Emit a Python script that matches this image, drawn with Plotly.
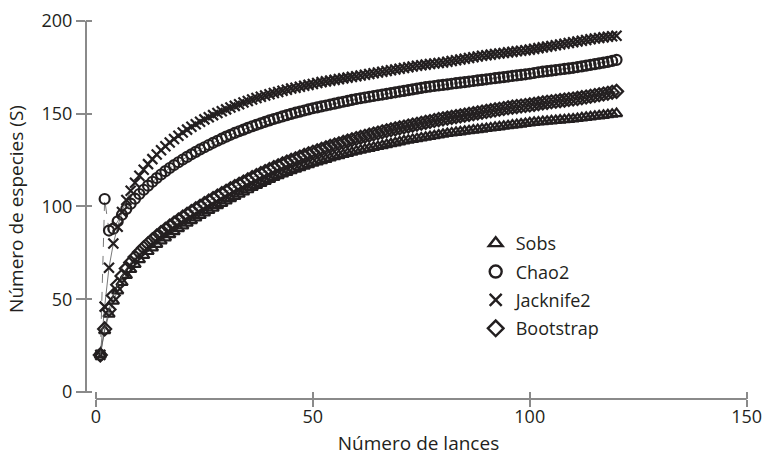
import plotly.graph_objects as go

lances = list(range(1, 121))

sobs = [20.0, 33.0, 42.0, 49.0, 54.5, 59.0, 62.8, 66.0, 68.8, 71.3,
        73.6, 75.7, 77.7, 79.6, 81.4, 83.1, 84.8, 86.4, 88.0, 89.5,
        91.0, 92.4, 93.8, 95.2, 96.5, 97.8, 99.1, 100.4, 101.7, 103.0,
        104.2, 105.4, 106.6, 107.8, 109.0, 110.2, 111.3, 112.4, 113.5, 114.6,
        115.6, 116.6, 117.5, 118.4, 119.3, 120.1, 120.9, 121.7, 122.5, 123.3,
        124.0, 124.7, 125.4, 126.1, 126.8, 127.4, 128.0, 128.6, 129.2, 129.8,
        130.3, 130.8, 131.3, 131.8, 132.3, 132.8, 133.3, 133.8, 134.3, 134.8,
        135.3, 135.7, 136.1, 136.5, 136.9, 137.3, 137.7, 138.1, 138.5, 138.9,
        139.3, 139.6, 139.9, 140.2, 140.5, 140.8, 141.1, 141.4, 141.7, 142.0,
        142.3, 142.6, 142.9, 143.2, 143.5, 143.8, 144.1, 144.4, 144.7, 145.0,
        145.3, 145.5, 145.7, 145.9, 146.1, 146.3, 146.5, 146.7, 146.9, 147.1,
        147.4, 147.7, 148.0, 148.3, 148.6, 148.8, 149.1, 149.4, 149.7, 150.0]

chao2 = [20.0, 104.0, 87.0, 88.0, 92.0, 95.5, 98.7, 101.5, 104.2, 106.7,
         109.0, 111.2, 113.3, 115.3, 117.2, 119.0, 120.7, 122.3, 123.8, 125.3,
         126.7, 128.1, 129.4, 130.7, 131.9, 133.1, 134.3, 135.4, 136.5, 137.6,
         138.6, 139.6, 140.5, 141.4, 142.3, 143.2, 144.0, 144.8, 145.6, 146.4,
         147.1, 147.8, 148.5, 149.2, 149.9, 150.5, 151.1, 151.7, 152.3, 152.9,
         153.4, 153.9, 154.4, 154.9, 155.4, 155.9, 156.4, 156.9, 157.4, 157.9,
         158.3, 158.7, 159.1, 159.5, 159.9, 160.3, 160.7, 161.1, 161.5, 161.9,
         162.3, 162.7, 163.1, 163.5, 163.9, 164.3, 164.6, 164.9, 165.2, 165.5,
         165.8, 166.1, 166.4, 166.7, 167.0, 167.3, 167.6, 167.9, 168.2, 168.5,
         168.8, 169.1, 169.4, 169.7, 170.0, 170.3, 170.6, 170.9, 171.2, 171.5,
         171.9, 172.3, 172.6, 172.9, 173.2, 173.5, 173.8, 174.1, 174.4, 174.7,
         175.1, 175.5, 175.9, 176.3, 176.7, 177.1, 177.5, 177.9, 178.4, 179.0]

jack2 = [20.0, 46.0, 67.0, 80.0, 89.0, 97.0, 103.5, 108.5, 112.8, 116.5,
         119.8, 122.8, 125.5, 128.0, 130.3, 132.4, 134.4, 136.3, 138.1, 139.8,
         141.4, 142.9, 144.3, 145.6, 146.9, 148.1, 149.2, 150.3, 151.3, 152.3,
         153.3, 154.2, 155.1, 156.0, 156.8, 157.6, 158.4, 159.1, 159.8, 160.5,
         161.1, 161.7, 162.3, 162.9, 163.5, 164.0, 164.5, 165.0, 165.5, 166.0,
         166.5, 167.0, 167.4, 167.8, 168.2, 168.6, 169.0, 169.4, 169.8, 170.2,
         170.6, 171.0, 171.4, 171.8, 172.2, 172.6, 173.0, 173.4, 173.8, 174.2,
         174.6, 175.0, 175.4, 175.8, 176.1, 176.4, 176.7, 177.0, 177.3, 177.6,
         178.0, 178.4, 178.8, 179.2, 179.6, 180.0, 180.4, 180.8, 181.2, 181.5,
         181.8, 182.1, 182.4, 182.7, 183.0, 183.3, 183.6, 183.9, 184.2, 184.5,
         184.9, 185.3, 185.7, 186.1, 186.5, 186.9, 187.3, 187.7, 188.1, 188.5,
         188.9, 189.3, 189.7, 190.1, 190.5, 190.8, 191.1, 191.4, 191.7, 192.0]

bootstrap = [20.0, 34.0, 44.5, 52.0, 57.8, 62.5, 66.5, 69.8, 72.7, 75.3,
             77.7, 79.9, 82.0, 84.0, 85.9, 87.7, 89.4, 91.1, 92.7, 94.3,
             95.8, 97.3, 98.7, 100.1, 101.5, 102.9, 104.3, 105.6, 106.9, 108.2,
             109.5, 110.7, 111.9, 113.1, 114.3, 115.5, 116.6, 117.7, 118.8, 119.9,
             120.9, 121.9, 122.9, 123.9, 124.8, 125.7, 126.6, 127.5, 128.4, 129.2,
             130.0, 130.8, 131.6, 132.4, 133.1, 133.8, 134.5, 135.2, 135.9, 136.6,
             137.2, 137.8, 138.4, 139.0, 139.6, 140.2, 140.8, 141.3, 141.8, 142.3,
             142.8, 143.3, 143.8, 144.3, 144.8, 145.3, 145.8, 146.3, 146.8, 147.2,
             147.6, 148.0, 148.4, 148.8, 149.2, 149.6, 150.0, 150.4, 150.8, 151.2,
             151.6, 152.0, 152.4, 152.8, 153.2, 153.5, 153.8, 154.1, 154.4, 154.7,
             155.0, 155.4, 155.8, 156.1, 156.4, 156.7, 157.0, 157.3, 157.6, 157.9,
             158.2, 158.6, 159.0, 159.4, 159.8, 160.2, 160.6, 161.0, 161.5, 162.0]

series_names = ["Sobs", "Chao2", "Jacknife2", "Bootstrap"]
series_values = [sobs, chao2, jack2, bootstrap]
symbols = ["triangle-up-open", "circle-open", "x-thin-open", "diamond-open"]
sizes = [10, 10, 10, 10]
dashes = ["solid", "dash", "solid", "solid"]

x_ticks = [0, 50, 100, 150]
y_ticks = [0, 50, 100, 150, 200]

INK = "#231f20"
AXIS = "#8a8a8a"
FONT = "Open Sans"

fig = go.Figure()

for name, vals, sym, sz, dsh in zip(series_names, series_values, symbols, sizes, dashes):
    fig.add_trace(go.Scatter(
        x=lances, y=vals, mode="lines+markers", showlegend=False,
        line=dict(color="#555555", width=0.8, dash=dsh),
        marker=dict(symbol=sym, size=sz, color=INK, line=dict(color=INK, width=2.2)),
    ))

# legend-only entries (markers without line)
for name, sym in zip(series_names, symbols):
    fig.add_trace(go.Scatter(
        x=[None], y=[None], mode="markers", name=name, legendgroup=name,
        marker=dict(symbol=sym, size=12, color=INK, line=dict(color=INK, width=2.4)),
    ))

# invisible trace to activate overlay axes for crossing ticks
fig.add_trace(go.Scatter(x=[None], y=[None], xaxis="x2", yaxis="y2", showlegend=False))

fig.update_layout(
    width=765, height=456,
    margin=dict(l=86, r=14, t=19, b=57),
    paper_bgcolor="white", plot_bgcolor="white",
    font=dict(family=FONT, color=INK, size=18),
    xaxis=dict(range=[-2.3, 151], tickvals=x_ticks, showgrid=False, zeroline=False,
               showline=False, ticks="outside", ticklen=7, tickwidth=1.5, tickcolor=AXIS,
               automargin=False, ticklabelstandoff=-6,
               tickfont=dict(size=18, family=FONT, color=INK),
               title=dict(text="Número de lances", font=dict(size=19, family=FONT, color=INK), standoff=26)),
    yaxis=dict(range=[-3.77, 201], tickvals=y_ticks, showgrid=False, zeroline=False,
               showline=False, ticks="outside", ticklen=9, tickwidth=1.5, tickcolor=AXIS,
               automargin=False,
               tickfont=dict(size=18, family=FONT, color=INK),
               title=dict(text="Número de especies (S)", font=dict(size=19, family=FONT, color=INK), standoff=12)),
    xaxis2=dict(overlaying="x", matches="x", anchor="y", side="bottom", tickvals=x_ticks,
                showticklabels=False, showgrid=False, zeroline=False, showline=False,
                automargin=False, ticks="inside", ticklen=7, tickwidth=1.5, tickcolor=AXIS),
    yaxis2=dict(overlaying="y", matches="y", anchor="x", side="left", tickvals=y_ticks,
                showticklabels=False, showgrid=False, zeroline=False, showline=False,
                automargin=False, ticks="inside", ticklen=6, tickwidth=1.5, tickcolor=AXIS),
    legend=dict(x=0.586, y=0.458, xanchor="left", yanchor="top", bgcolor="rgba(0,0,0,0)",
                font=dict(size=18, family=FONT, color=INK), traceorder="grouped",
                tracegroupgap=2, itemclick=False),
    shapes=[
        dict(type="line", xref="paper", yref="y", x0=0, x1=0, y0=-0.5, y1=200,
             line=dict(color=AXIS, width=2)),
        dict(type="line", xref="x", yref="paper", x0=0, x1=150, y0=0, y1=0,
             line=dict(color=AXIS, width=2)),
    ],
)

# remove the default 8px page margin so the 765x456 figure fills the window exactly
fig.write_html(
    "out.html",
    config={"displayModeBar": False},
    post_script="document.body.style.margin='0px';document.body.style.overflow='hidden';",
)
